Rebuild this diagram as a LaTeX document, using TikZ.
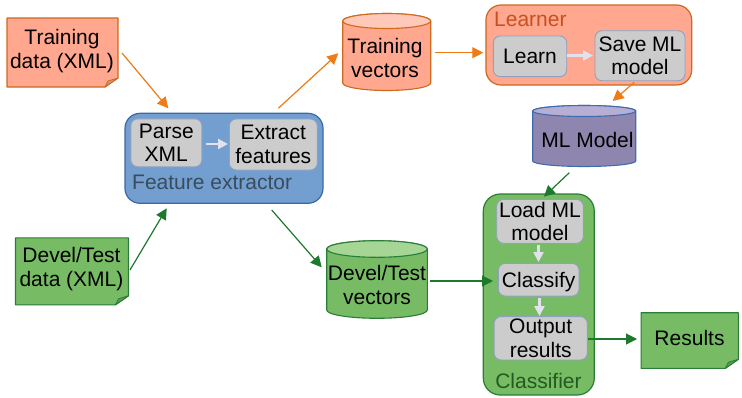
\documentclass[tikz,border=0pt]{standalone}
\usepackage{fontspec}
\setmainfont{Liberation Sans}
\usetikzlibrary{arrows.meta}
\definecolor{salmon}{HTML}{FFA78F}
\definecolor{salmontop}{HTML}{FFC8B8}
\definecolor{salmonfold}{HTML}{D98F78}
\definecolor{orangeline}{HTML}{CC6A1E}
\definecolor{orangearrow}{HTML}{EE7B17}
\definecolor{learnertext}{HTML}{C8501E}
\definecolor{bluefill}{HTML}{729FCF}
\definecolor{blueline}{HTML}{3A69A6}
\definecolor{fetext}{HTML}{3B4B5E}
\definecolor{greenfill}{HTML}{77BC65}
\definecolor{greentop}{HTML}{A6D696}
\definecolor{greenfold}{HTML}{5A9A4C}
\definecolor{greenline}{HTML}{2A7D36}
\definecolor{greenarrow}{HTML}{1B7A2C}
\definecolor{cltext}{HTML}{235A1F}
\definecolor{purplefill}{HTML}{8E86AE}
\definecolor{purpletop}{HTML}{B7AED4}
\definecolor{purpleline}{HTML}{3F6CB0}
\definecolor{innerfill}{HTML}{CCCCCC}
\definecolor{innerline}{HTML}{8EA2C0}
\definecolor{innerarrow}{HTML}{E2E2EE}

\newcommand{\noteshape}[7]{%
 \path[fill=#5, draw=#6, line width=1.1pt, line join=round]
   ({#1-#3/2},{#2-#4/2}) -- ({#1+#3/2},{#2-#4/2}) -- ({#1+#3/2},{#2+#4/2-9}) --
   ({#1+#3/2-13},{#2+#4/2}) -- ({#1-#3/2},{#2+#4/2}) -- cycle;
 \path[fill=#7, draw=#6, line width=0.8pt, line join=round]
   ({#1+#3/2-13},{#2+#4/2}) -- ({#1+#3/2},{#2+#4/2-9}) -- ({#1+#3/2-10},{#2+#4/2-6}) -- cycle;
}
\newcommand{\cylshape}[8]{%
 \path[fill=#6, draw=#8, line width=1.1pt]
   ({#1-#4},#2) -- ({#1-#4},#3) arc[start angle=180, end angle=360, x radius=#4pt, y radius=#5pt]
   -- ({#1+#4},#2) arc[start angle=0, end angle=180, x radius=#4pt, y radius=#5pt] -- cycle;
 \path[fill=#7, draw=#8, line width=1.1pt] (#1,#2) ellipse[x radius=#4pt, y radius=#5pt];
}

\tikzset{
 txt/.style={font=\fontsize{21}{23.8}\selectfont, align=center, inner sep=0pt, text depth=0pt},
 innerbox/.style={txt, draw=innerline, fill=innerfill, line width=0.9pt, rounded corners=7pt},
 container/.style={line width=1.2pt, rounded corners=15pt},
 oarr/.style={draw=orangearrow, line width=1.2pt, -{Triangle[length=11pt,width=11pt]}},
 garr/.style={draw=greenarrow, line width=1.2pt, -{Triangle[length=11pt,width=11pt]}},
 iarr/.style={draw=innerarrow, line width=2.4pt, -{Triangle[length=10pt,width=10pt]}},
}

\begin{document}
\begin{tikzpicture}[x=1pt,y=-1pt]
\useasboundingbox (0,0) rectangle (742,397);
\fill[white] (0,0) rectangle (742,397);

% notes
\noteshape{62.5}{52.5}{111}{69}{salmon}{orangeline}{salmonfold}
\node[txt] (td) at (62,48.5) {Training\\data (XML)};
\noteshape{72}{271.3}{113}{67}{greenfill}{greenline}{greenfold}
\node[txt] (dd) at (71.5,267) {Devel/Test\\data (XML)};
\noteshape{689.7}{340.5}{97.3}{55.6}{greenfill}{greenline}{greenfold}
\node[txt] (res) at (689.5,337.8) {Results};

% feature extractor
\node[container, fill=bluefill, draw=blueline, minimum width=198pt, minimum height=90pt] (fe) at (224,158.3) {};
\node[innerbox, minimum width=71pt, minimum height=48pt] (parse) at (166.3,142.8) {Parse\\XML};
\node[innerbox, minimum width=88pt, minimum height=51pt] (extract) at (273.3,144.5) {Extract\\features};
\node[txt, anchor=base west, text=fetext] (felabel) at (132,189) {Feature extractor};

% cylinders
\cylshape{386.7}{21}{83}{44}{7.5}{salmon}{salmontop}{orangeline}
\node[txt] (tv) at (385,58) {Training\\vectors};
\cylshape{584.2}{111}{161}{51.5}{5.5}{purplefill}{purpletop}{purpleline}
\node[txt] (ml) at (587.5,140) {ML Model};
\cylshape{377}{249}{310}{50.3}{8.3}{greenfill}{greentop}{greenline}
\node[txt] (dv) at (377,285) {Devel/Test\\vectors};

% learner
\node[container, fill=salmon, draw=orangeline, minimum width=205.7pt, minimum height=80pt] (learner) at (588.8,45) {};
\node[txt, anchor=base west, text=learnertext] (lelabel) at (494,26.7) {Learner};
\node[innerbox, minimum width=73.4pt, minimum height=40.7pt] (learn) at (530,56.3) {Learn};
\node[innerbox, minimum width=90pt, minimum height=50pt] (save) at (640,55.7) {Save ML\\model};

% classifier
\node[container, fill=greenfill, draw=greenline, minimum width=111pt, minimum height=201pt, rounded corners=17pt] (cl) at (538.8,294.5) {};
\node[innerbox, minimum width=86.6pt, minimum height=44pt] (load) at (540,221.3) {Load ML\\model};
\node[innerbox, minimum width=80.7pt, minimum height=32.7pt] (classify) at (538.7,279.7) {Classify};
\node[innerbox, minimum width=93.3pt, minimum height=43.3pt] (output) at (540.7,338.3) {Output\\results};
\node[txt, anchor=base, text=cltext] (cllabel) at (538.5,388) {Classifier};

% connectors
\draw[oarr] ([shift={(60,4.5)}]td.center) -- ([shift={(-55.7,-50)}]fe.center);
\draw[garr] ([shift={(58.5,3)}]dd.center) -- ([shift={(-57.3,50)}]fe.center);
\draw[oarr] ([shift={(54.3,-50)}]fe.center) -- ([shift={(-46.7,-4.7)}]tv.center);
\draw[oarr] ([shift={(50,-5.3)}]tv.center) -- ([shift={(-105.5,7.7)}]learner.center);
\draw[garr] ([shift={(47.7,51.7)}]fe.center) -- ([shift={(-55.3,-17.7)}]dv.center);
\draw[garr] ([shift={(53,-4)}]dv.center) -- ([shift={(-45.8,-13.5)}]cl.center);
\draw[oarr] ([shift={(-5.7,26.6)}]save.center) -- ([shift={(25.2,-39)}]ml.center);
\draw[garr] ([shift={(-18.2,32.7)}]ml.center) -- ([shift={(4,-24.6)}]load.center);
\draw[garr] ([shift={(47.3,0.7)}]output.center) -- ([shift={(-52.5,1.2)}]res.center);

\draw[iarr] ([shift={(39.7,1.2)}]parse.center) -- ([shift={(-45.3,-0.5)}]extract.center);
\draw[iarr] ([shift={(37,-0.8)}]learn.center) -- ([shift={(-47,-0.2)}]save.center);
\draw[iarr] ([shift={(-1.5,23.7)}]load.center) -- ([shift={(-0.2,-17.7)}]classify.center);
\draw[iarr] ([shift={(0.8,18.3)}]classify.center) -- ([shift={(-1.2,-22.3)}]output.center);
\end{tikzpicture}
\end{document}
